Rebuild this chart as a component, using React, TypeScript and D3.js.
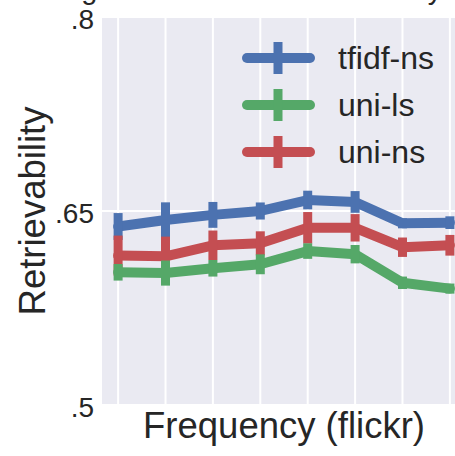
import React from "react";
import * as d3 from "d3";

const freqBins = [0, 1, 2, 3, 4, 5, 6, 7];
const yTicks = [0.5, 0.65, 0.8];
const yTickLabels = [".5", ".65", ".8"];

const tfidfNs = [0.638, 0.643, 0.647, 0.65, 0.6585, 0.657, 0.6405, 0.641];
const tfidfNsErr = [0.0104, 0.0137, 0.01, 0.0066, 0.0072, 0.0084, 0.0039, 0.0049];
const uniLs = [0.6026, 0.602, 0.6057, 0.6088, 0.619, 0.6166, 0.5945, 0.59];
const uniLsErr = [0.0064, 0.0097, 0.0064, 0.0077, 0.006, 0.0071, 0.0048, 0.0039];
const uniNs = [0.6155, 0.615, 0.6235, 0.625, 0.637, 0.637, 0.622, 0.6235];
const uniNsErr = [0.0155, 0.0152, 0.0114, 0.0093, 0.0122, 0.0106, 0.0075, 0.008];

const legendNames = ["tfidf-ns", "uni-ls", "uni-ns"];
const colors = { blue: "#4C72B0", green: "#55A868", red: "#C44E52" };

const W = 455;
const H = 456;
const margin = { left: 102, top: 17, bottom: 405, right: 466 };
const font = "'Liberation Sans', Arial, sans-serif";

export default function App() {
  const x = d3.scaleLinear().domain([-0.34, 7.34]).range([margin.left, margin.right]);
  const y = d3.scaleLinear().domain([0.5, 0.8]).range([margin.bottom, margin.top]);

  const line = d3
    .line<number>()
    .x((_, i) => x(freqBins[i]))
    .y((d) => y(d));

  // plot order: blue, red, green (green ends up on top)
  const series = [
    { vals: tfidfNs, err: tfidfNsErr, color: colors.blue },
    { vals: uniNs, err: uniNsErr, color: colors.red },
    { vals: uniLs, err: uniLsErr, color: colors.green },
  ];

  const legend = [
    { name: legendNames[0], color: colors.blue },
    { name: legendNames[1], color: colors.green },
    { name: legendNames[2], color: colors.red },
  ];
  const cx = (margin.left + margin.right) / 2;
  const cy = (margin.top + margin.bottom) / 2;

  return (
    <svg
      width={W}
      height={H}
      style={{ position: "absolute", left: 0, top: 0, background: "#fff" }}
      fontFamily={font}
    >
      {/* title, cut off by the crop in the original */}
      <text x={6} y={-1} fontSize={29} fill="#262626">
        Averaged normalised retrievability
      </text>

      <rect
        x={margin.left}
        y={margin.top}
        width={margin.right - margin.left}
        height={margin.bottom - margin.top}
        fill="#EAEAF2"
      />
      {freqBins.map((b) => (
        <line key={"gx" + b} x1={x(b)} x2={x(b)} y1={margin.top} y2={margin.bottom} stroke="#fff" strokeWidth={2} />
      ))}
      {yTicks.map((t) => (
        <line key={"gy" + t} x1={margin.left} x2={margin.right} y1={y(t)} y2={y(t)} stroke="#fff" strokeWidth={2} />
      ))}

      {series.map((s, si) => (
        <g key={si}>
          <path d={line(s.vals) ?? ""} fill="none" stroke={s.color} strokeWidth={10} strokeLinecap="round" strokeLinejoin="round" />
          {s.vals.map((v, i) => (
            <line
              key={i}
              x1={x(freqBins[i])}
              x2={x(freqBins[i])}
              y1={y(v - s.err[i])}
              y2={y(v + s.err[i])}
              stroke={s.color}
              strokeWidth={9}
            />
          ))}
        </g>
      ))}

      {yTicks.map((t, i) => (
        <text key={"yl" + t} x={94} y={y(t) + 12} textAnchor="end" fontSize={28} fill="#262626">
          {yTickLabels[i]}
        </text>
      ))}

      <text x={cx} y={438} textAnchor="middle" fontSize={36.5} fill="#262626">
        Frequency (flickr)
      </text>
      <text transform={`translate(45,${cy}) rotate(-90)`} textAnchor="middle" fontSize={36.5} fill="#262626">
        Retrievability
      </text>

      {legend.map((l, i) => {
        const ly = 58 + i * 47;
        return (
          <g key={l.name}>
            <line x1={247} x2={310} y1={ly} y2={ly} stroke={l.color} strokeWidth={10} strokeLinecap="round" />
            <line x1={278} x2={278} y1={ly - 16} y2={ly + 16} stroke={l.color} strokeWidth={9} />
            <text x={338} y={ly + 11} fontSize={32} fill="#262626">
              {l.name}
            </text>
          </g>
        );
      })}
    </svg>
  );
}
